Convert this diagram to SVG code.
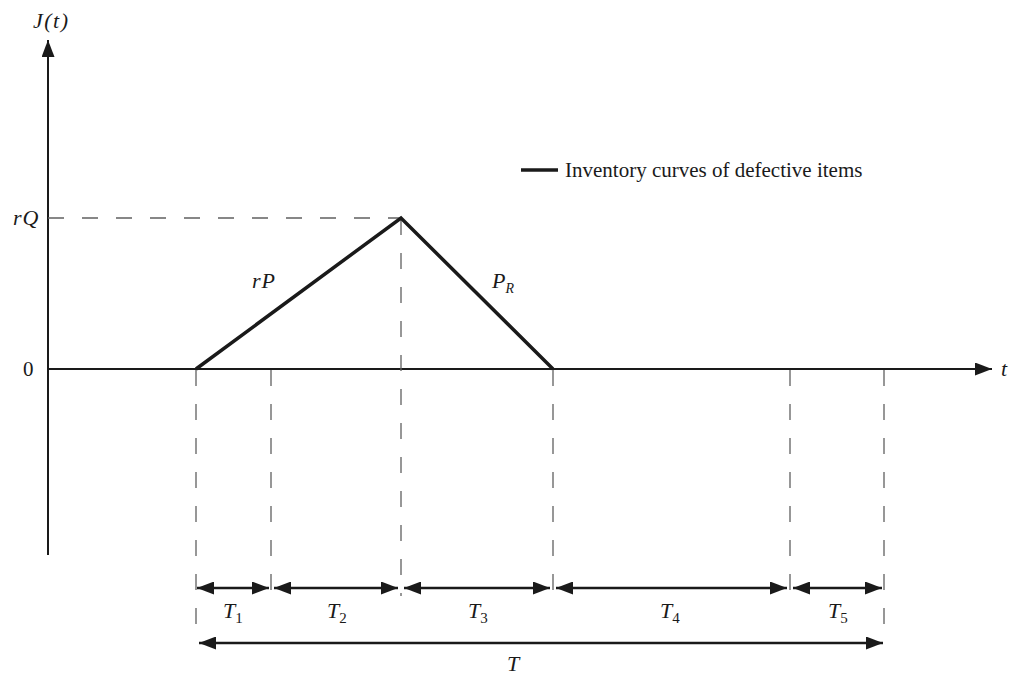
<svg xmlns="http://www.w3.org/2000/svg" width="1009" height="678" viewBox="0 0 1009 678">
<defs>
<marker id="ah2" viewBox="0 0 17 13" refX="17" refY="6.5" markerWidth="17" markerHeight="13" markerUnits="userSpaceOnUse" orient="auto-start-reverse">
<path d="M0,0 L17,6.5 L0,13 z" fill="#1a1a1a"/>
</marker>
</defs>
<style>
.ax{stroke:#1a1a1a;stroke-width:2;fill:none}
.curve{stroke:#1a1a1a;stroke-width:3.5;fill:none;stroke-linecap:butt}
.dash{stroke:#606060;stroke-width:1.3;stroke-dasharray:16 18;fill:none}
.dim{stroke:#1a1a1a;stroke-width:2.5;fill:none}
.m{font-family:"Liberation Serif",serif;font-style:italic;font-size:22px;fill:#1a1a1a}
.sub{font-size:15px;font-style:normal}
.subi{font-size:14px}
.n{font-family:"Liberation Serif",serif;font-size:21px;fill:#1a1a1a}
</style>
<rect width="1009" height="678" fill="#fff"/>
<g id="axes">
<line class="ax" x1="48" y1="555" x2="48" y2="40" marker-end="url(#ah2)"/>
<line class="ax" x1="48" y1="369" x2="992" y2="369" marker-end="url(#ah2)"/>
</g>
<g id="guides">
<line class="dash" x1="48" y1="218" x2="401" y2="218"/>
<line class="dash" x1="401" y1="219" x2="401" y2="596"/>
<line class="dash" x1="196" y1="370" x2="196" y2="626"/>
<line class="dash" x1="271" y1="370" x2="271" y2="596"/>
<line class="dash" x1="553" y1="370" x2="553" y2="596"/>
<line class="dash" x1="790" y1="370" x2="790" y2="596"/>
<line class="dash" x1="884" y1="370" x2="884" y2="626"/>
</g>
<g id="curve">
<polyline class="curve" points="196,369 401,218 553,369"/>
</g>
<g id="legend">
<line class="curve" x1="521" y1="170" x2="558" y2="170"/>
<text class="n" x="565" y="177">Inventory curves of defective items</text>
</g>
<g id="connectors">
<line class="dim" x1="197" y1="588" x2="269" y2="588" marker-start="url(#ah2)" marker-end="url(#ah2)"/>
<line class="dim" x1="274" y1="588" x2="398" y2="588" marker-start="url(#ah2)" marker-end="url(#ah2)"/>
<line class="dim" x1="404" y1="588" x2="550" y2="588" marker-start="url(#ah2)" marker-end="url(#ah2)"/>
<line class="dim" x1="556" y1="588" x2="787" y2="588" marker-start="url(#ah2)" marker-end="url(#ah2)"/>
<line class="dim" x1="793" y1="588" x2="882" y2="588" marker-start="url(#ah2)" marker-end="url(#ah2)"/>
<line class="dim" x1="199" y1="643" x2="883" y2="643" marker-start="url(#ah2)" marker-end="url(#ah2)"/>
</g>
<g id="labels">
<text class="m" x="33" y="28" letter-spacing="1.5">J(t)</text>
<text class="m" x="13" y="225" letter-spacing="1">rQ</text>
<text class="n" x="23" y="376">0</text>
<text class="m" x="1001" y="376">t</text>
<text class="m" x="252" y="288" letter-spacing="1">rP</text>
<text class="m" x="492" y="288">P<tspan class="subi" dy="5">R</tspan></text>
<text class="m" x="223" y="618">T<tspan class="sub" dy="5">1</tspan></text>
<text class="m" x="327" y="618">T<tspan class="sub" dy="5">2</tspan></text>
<text class="m" x="468" y="618">T<tspan class="sub" dy="5">3</tspan></text>
<text class="m" x="660" y="618">T<tspan class="sub" dy="5">4</tspan></text>
<text class="m" x="828" y="618">T<tspan class="sub" dy="5">5</tspan></text>
<text class="m" x="507" y="671">T</text>
</g>
</svg>
